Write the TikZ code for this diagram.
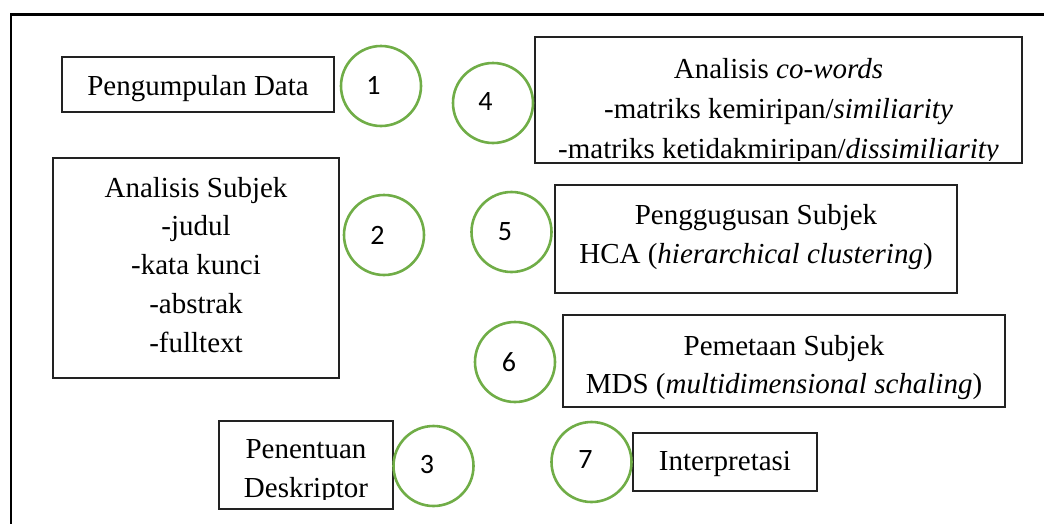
\documentclass[tikz,border=0pt]{standalone}
\usepackage{fontspec}
\setmainfont{Liberation Serif}
\newfontfamily\numfont{Carlito}
\usetikzlibrary{fit}
\definecolor{ringgreen}{HTML}{70AD47}
\definecolor{boxline}{HTML}{222222}
\begin{document}
\begin{tikzpicture}[x=1pt,y=-1pt,
  stage/.style={draw=boxline, line width=1.4pt, inner sep=0pt, rectangle},
  ring/.style={draw=ringgreen, line width=2.6pt, circle, minimum size=80pt, inner sep=0pt},
  txt/.style={anchor=base, inner sep=0pt, font=\fontsize{29}{35}\selectfont},
  num/.style={anchor=base, inner sep=0pt, font=\numfont\fontsize{28}{34}\selectfont}]

\useasboundingbox (0,0) rectangle (1044,523);

% outer frame (continues past the page edges)
\coordinate (fbl) at (11,530);
\coordinate (ftl) at (11,14.5);
\coordinate (ftr) at (1050,14.5);
\draw[line width=2.4pt, black] (fbl) -- (ftl) -- (ftr);

% step boxes
\node[stage, fit={(62,57) (334,112)}] (b1) {};
\node[stage, fit={(53,158) (339,378)}] (b2) {};
\node[stage, fit={(219,421) (393,509)}] (b3) {};
\node[stage, fit={(535,37) (1022,163)}] (b4) {};
\node[stage, fit={(555,185) (957,293)}] (b5) {};
\node[stage, fit={(563,315) (1005,407)}] (b6) {};
\node[stage, fit={(633,433) (817,491)}] (b7) {};

% numbered rings
\node[ring] (c1) at (381,86) {};
\node[ring] (c2) at (384,235) {};
\node[ring] (c3) at (433.5,466) {};
\node[ring] (c4) at (493,103) {};
\node[ring] (c5) at (511.5,232) {};
\node[ring] (c6) at (515,362) {};
\node[ring] (c7) at (591.5,462) {};

\node[num] (n1) at (373.5,94) {1};
\node[num] (n2) at (377.5,244) {2};
\node[num] (n3) at (427,473) {3};
\node[num] (n4) at (485.5,110) {4};
\node[num] (n5) at (505,240) {5};
\node[num] (n6) at (509,371) {6};
\node[num] (n7) at (585.5,468) {7};

% box texts
\node[txt] (t1) at (198,95) {Pengumpulan Data};

\node[txt] (t2a) at (196,197) {Analisis Subjek};
\node[txt] (t2b) at (196,235.5) {-judul};
\node[txt] (t2c) at (196,274) {-kata kunci};
\node[txt] (t2d) at (196,313) {-abstrak};
\node[txt] (t2e) at (196,352) {-fulltext};

\node[txt] (t3a) at (306,458) {Penentuan};
\begin{scope}
  \clip (220,470) rectangle (392,499);
  \node[txt] (t3b) at (306,497) {Deskriptor};
\end{scope}

\node[txt] (t4a) at (778.5,78) {Analisis \textit{co-words}};
\node[txt] (t4b) at (778.5,118) {-matriks kemiripan/\textit{similiarity}};
\begin{scope}
  \clip (536,125) rectangle (1021,160);
  \node[txt] (t4c) at (778.5,158) {-matriks ketidakmiripan/\textit{dissimiliarity}};
\end{scope}

\node[txt] (t5a) at (756,224) {Penggugusan Subjek};
\node[txt] (t5b) at (756,263) {HCA (\textit{hierarchical clustering})};

\node[txt] (t6a) at (784,355) {Pemetaan Subjek};
\node[txt] (t6b) at (784,393) {MDS (\textit{multidimensional schaling})};

\node[txt] (t7) at (725,470) {Interpretasi};
\end{tikzpicture}
\end{document}
